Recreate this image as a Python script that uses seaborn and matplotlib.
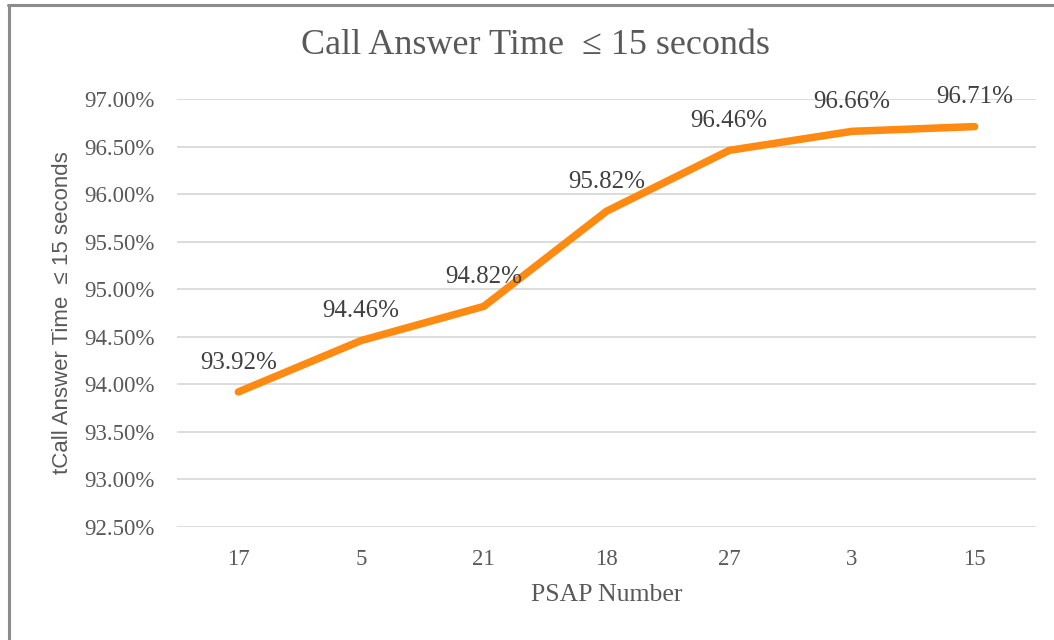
import pandas as pd
import seaborn as sns
import matplotlib.pyplot as plt
from matplotlib.lines import Line2D
from matplotlib.ticker import FuncFormatter

psap = ['17', '5', '21', '18', '27', '3', '15']
answer_pct = [93.92, 94.46, 94.82, 95.82, 96.46, 96.66, 96.71]
y_ticks = [92.5, 93.0, 93.5, 94.0, 94.5, 95.0, 95.5, 96.0, 96.5, 97.0]

sns.set_theme(style='white')
plt.rcParams['font.family'] = ['Liberation Serif', 'DejaVu Serif']

df = pd.DataFrame({'PSAP Number': psap, 'pct': answer_pct})

fig = plt.figure(figsize=(10.54, 6.4), dpi=100)
ax = fig.add_axes([177 / 1054, 1 - 527 / 640, (1036 - 177) / 1054, (527 - 99) / 640])

sns.lineplot(data=df, x='PSAP Number', y='pct', sort=False, ax=ax,
             color='#FF8A12', linewidth=5.4, solid_capstyle='round')

ax.set_xlim(-0.5, 6.5)
ax.set_ylim(92.5, 97.0)
ax.set_yticks(y_ticks)
ax.yaxis.set_major_formatter(FuncFormatter(lambda v, p: f'{v:.2f}%'))
ax.grid(axis='y', color='#d9d9d9', linewidth=1.3)
ax.set_axisbelow(True)
for s in ax.spines.values():
    s.set_visible(False)
ax.tick_params(axis='both', length=0, labelsize=16.5, labelcolor='#595959')
ax.tick_params(axis='y', pad=16)
ax.tick_params(axis='x', pad=16)

ax.set_xlabel('PSAP Number', fontsize=18.5, color='#595959', labelpad=10)
ax.set_ylabel('tCall Answer Time  ≤ 15 seconds', fontsize=16, color='#595959',
              family=['Liberation Sans', 'DejaVu Sans'], labelpad=8)

for i, v in enumerate(answer_pct):
    ax.annotate(f'{v:.2f}%', (i, v), xytext=(0, 21), textcoords='offset points',
                ha='center', va='center', fontsize=18, color='#404040')

fig.text(535 / 1054, 1 - 45 / 640, 'Call Answer Time  ≤ 15 seconds',
         ha='center', va='center', fontsize=26, color='#595959')

# outer frame (left and top edges visible)
fig.add_artist(Line2D([9 / 1054, 9 / 1054], [0, 1 - 5 / 640], transform=fig.transFigure,
                      color='#8c8c8c', linewidth=2.2))
fig.add_artist(Line2D([8 / 1054, 1], [1 - 5 / 640, 1 - 5 / 640], transform=fig.transFigure,
                      color='#8c8c8c', linewidth=2.2))

fig.savefig('out.png', dpi=100)
